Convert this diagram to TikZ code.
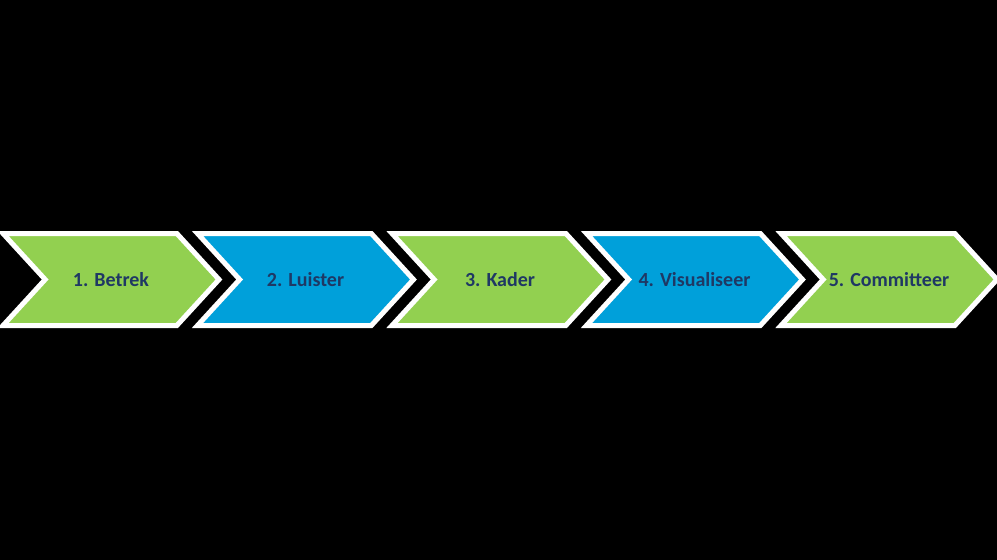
\documentclass[tikz,border=0pt]{standalone}
\usepackage{fontspec}
\setmainfont{Carlito}
\usepackage{xcolor}
\usepackage{tikz}
\usetikzlibrary{shapes.symbols}

\definecolor{stepgreen}{HTML}{92D050}
\definecolor{stepblue}{HTML}{00A0DA}
\definecolor{steptext}{HTML}{1F3864}

\begin{document}
\begin{tikzpicture}[
        x=1pt, y=-1pt,
        every node/.style={signal, signal from=west, signal to=east, signal pointer angle=95,
            draw=white, line width=5pt, inner sep=0pt, minimum width=216pt, minimum height=92pt,
            font=\fontsize{20}{24}\selectfont\bfseries, text=steptext},
        greenstep/.style={fill=stepgreen},
        bluestep/.style={fill=stepblue}
    ]
    % Background
    \fill[black] (0,0) rectangle (997,560);
    \useasboundingbox (0,0) rectangle (997,560);

    % Steps
    \node[greenstep] (betrek) at (111,279.5) {1. Betrek};
    \node[bluestep] (luister) at (305.5,279.5) {2. Luister};
    \node[greenstep] (kader) at (500,279.5) {3. Kader};
    \node[bluestep] (visualiseer) at (694.5,279.5) {4. Visualiseer};
    \node[greenstep] (committeer) at (889,279.5) {5. Committeer};
\end{tikzpicture}
\end{document}
